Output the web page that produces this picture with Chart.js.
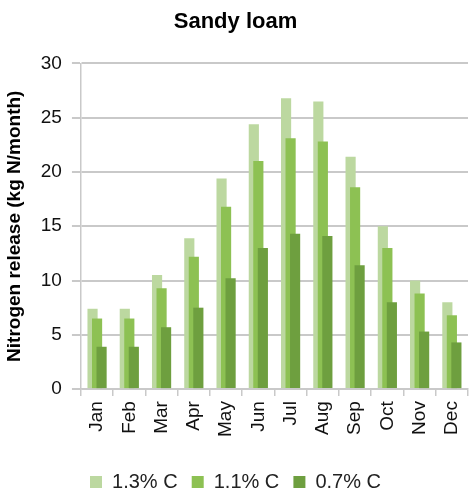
<!DOCTYPE html>
<html>
<head>
<meta charset="utf-8">
<script src="https://cdn.jsdelivr.net/npm/chart.js@4.4.1/dist/chart.umd.min.js"></script>
<style>
  html, body { margin: 0; padding: 0; background: #fff; }
  #wrap { width: 469px; height: 492px; }
</style>
</head>
<body>
<div id="wrap"><canvas id="barChart" width="469" height="492"></canvas></div>
<script>
"use strict";

const months = ["Jan", "Feb", "Mar", "Apr", "May", "Jun", "Jul", "Aug", "Sep", "Oct", "Nov", "Dec"];
const seriesNames = ["1.3% C", "1.1% C", "0.7% C"];
const high = [7.4, 7.4, 10.5, 13.9, 19.4, 24.4, 26.8, 26.5, 21.4, 15.0, 10.0, 8.0];
const mid = [6.5, 6.5, 9.3, 12.2, 16.8, 21.0, 23.1, 22.8, 18.6, 13.0, 8.8, 6.8];
const low = [3.9, 3.9, 5.7, 7.5, 10.2, 13.0, 14.3, 14.1, 11.4, 8.0, 5.3, 4.3];
const yTicks = [0, 5, 10, 15, 20, 25, 30];

const colors = ["#bcd8a0", "#8dc153", "#6e9f3f"];

// draw later series on top (like the original), keep grouping order
const drawInOrder = {
  id: "drawInOrder",
  beforeDatasetsDraw(chart) {
    chart.getSortedVisibleDatasetMetas().forEach((meta) => meta.controller.draw());
    return false;
  },
};

const container = document.getElementById("barChart");
const gridColor = "#c9c9c9";
const font = "Liberation Sans";

new Chart(container, {
  type: "bar",
  data: {
    labels: months,
    datasets: [high, mid, low].map((values, i) => ({
      label: seriesNames[i],
      data: values,
      backgroundColor: colors[i],
      borderWidth: 0,
      categoryPercentage: 0.42,
      barPercentage: 2.25,
    })),
  },
  options: {
    responsive: false,
    animation: false,
    devicePixelRatio: 1,
    layout: { padding: { left: 3, right: 1, top: 2, bottom: -10 } },
    plugins: {
      title: {
        display: true,
        text: "Sandy loam",
        color: "#000",
        font: { family: font, size: 22, weight: "bold" },
        padding: { top: 7, bottom: 28 },
      },
      legend: {
        position: "bottom",
        labels: {
          color: "#222",
          font: { family: font, size: 20 },
          boxWidth: 12,
          boxHeight: 12,
          padding: 3,
          generateLabels: (chart) =>
            Chart.defaults.plugins.legend.labels.generateLabels(chart).map((item, i, all) => ({
              ...item,
              text: i < all.length - 1 ? item.text + "  " : item.text,
            })),
        },
      },
      tooltip: { enabled: false },
    },
    scales: {
      x: {
        afterFit: (scale) => {
          scale.height += 27;
          scale.paddingRight = 0;
        },
        grid: {
          drawOnChartArea: false,
          drawTicks: true,
          tickLength: 7,
          color: gridColor,
          lineWidth: 1.5,
        },
        border: { color: gridColor, width: 1.5 },
        ticks: {
          color: "#111",
          font: { family: font, size: 19 },
          minRotation: 90,
          maxRotation: 90,
          padding: 5,
        },
      },
      y: {
        min: 0,
        max: 30,
        afterBuildTicks: (axis) => {
          axis.ticks = yTicks.map((v) => ({ value: v }));
        },
        grid: {
          color: gridColor,
          lineWidth: 2,
          tickLength: 9,
        },
        border: { color: gridColor, width: 1.5 },
        ticks: {
          color: "#111",
          font: { family: font, size: 19 },
          padding: 10,
        },
        title: {
          display: true,
          text: "Nitrogen release (kg N/month)",
          color: "#000",
          font: { family: font, size: 19, weight: "bold" },
          padding: { top: 0, bottom: 5 },
        },
      },
    },
  },
  plugins: [drawInOrder],
});
</script>
</body>
</html>
